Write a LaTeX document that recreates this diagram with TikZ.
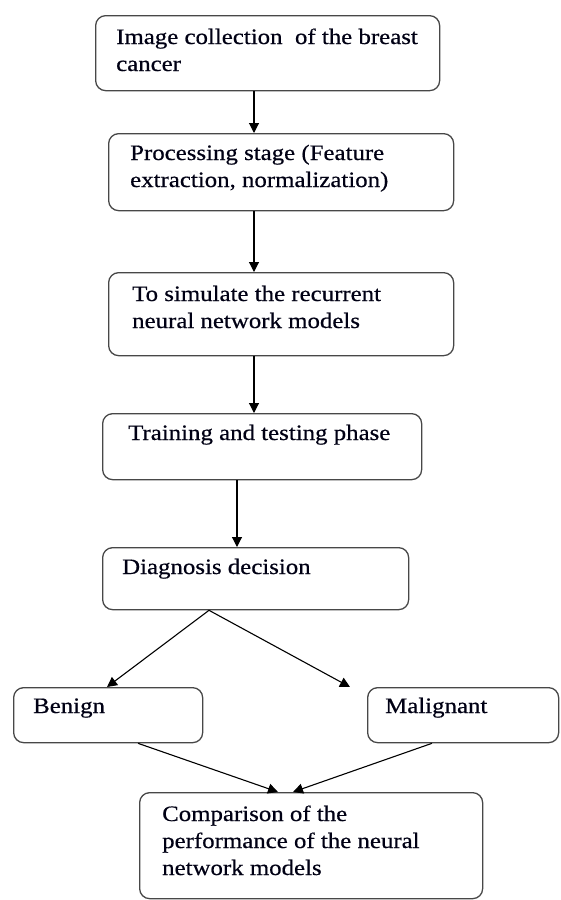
\documentclass[tikz,border=0pt]{standalone}
\usepackage{fontspec}
\setmainfont{Liberation Serif}[FakeStretch=1.13,FakeBold=0.5]
\usetikzlibrary{arrows.meta,calc}

% multi-line label whose baseline is that of its first line
\newcommand{\stacklines}[1]{\begin{tabular}[t]{@{}l@{}}#1\end{tabular}}

\begin{document}
\begin{tikzpicture}[x=1pt,y=-1pt,
  stepbox/.style={draw=black!72, line width=1.3pt, rounded corners=10pt,
    fill=white, anchor=north west, inner sep=0pt},
  txt/.style={anchor=base west, inner sep=0pt, text=black!92!blue,
    font=\fontsize{22}{27}\selectfont},
  flow/.style={draw=black, line width=1.1pt,
    -{Triangle[length=10pt,width=10pt]}}]

\useasboundingbox[fill=white] (0,0) rectangle (561,900);

% process boxes
\node[stepbox, minimum width=344pt, minimum height=75pt]  (b1) at (95,15)  {};
\node[stepbox, minimum width=345pt, minimum height=77pt]  (b2) at (108,133) {};
\node[stepbox, minimum width=345pt, minimum height=83pt]  (b3) at (108,272) {};
\node[stepbox, minimum width=319pt, minimum height=66pt]  (b4) at (102,413) {};
\node[stepbox, minimum width=306pt, minimum height=62pt]  (b5) at (102,547) {};
\node[stepbox, minimum width=189pt, minimum height=55pt]  (ben) at (13,687) {};
\node[stepbox, minimum width=191pt, minimum height=55pt]  (mal) at (367,687) {};
\node[stepbox, minimum width=343pt, minimum height=106pt] (cmp) at (139,792) {};

% box texts
\node[txt] (t1) at ($(b1.north west)+(21,29)$)
  {\stacklines{Image collection\ \ of the breast\\cancer}};
\node[txt] (t2) at ($(b2.north west)+(22,27)$)
  {\stacklines{Processing stage (Feature\\extraction, normalization)}};
\node[txt] (t3) at ($(b3.north west)+(24,29)$)
  {\stacklines{To simulate the recurrent\\neural network models}};
\node[txt] (t4) at ($(b4.north west)+(26,27)$) {Training and testing phase};
\node[txt] (t5) at ($(b5.north west)+(20,27)$) {Diagnosis decision};
\node[txt] (t6) at ($(ben.north west)+(20,26)$) {Benign};
\node[txt] (t7) at ($(mal.north west)+(18,26)$) {Malignant};
\node[txt] (t8) at ($(cmp.north west)+(23,29)$)
  {\stacklines{Comparison of the\\performance of the neural\\network models}};

% connectors
\draw[flow] ($(b1.south west)+(159,0)$) -- ($(b2.north west)+(146,0)$);
\draw[flow] ($(b2.south west)+(146,0)$) -- ($(b3.north west)+(146,0)$);
\draw[flow] ($(b3.south west)+(146,0)$) -- ($(b4.north west)+(152,0)$);
\draw[flow] ($(b4.south west)+(135,0)$) -- ($(b5.north west)+(135,0)$);
\draw[flow] ($(b5.south west)+(107,0)$) -- ($(ben.north west)+(94,0)$);
\draw[flow] ($(b5.south west)+(107,0)$) -- ($(mal.north west)+(-17,0)$);
\draw[flow] ($(ben.south west)+(125,0)$) -- ($(cmp.north west)+(139,0)$);
\draw[flow] ($(mal.south west)+(65,0)$) -- ($(cmp.north west)+(154,0)$);

\end{tikzpicture}
\end{document}
